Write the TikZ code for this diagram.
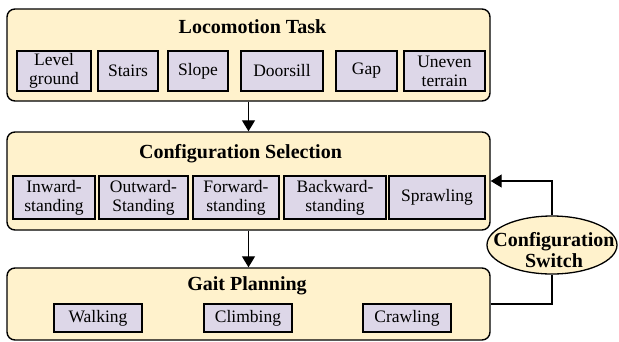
\documentclass[tikz,border=0pt]{standalone}
\usepackage{fontspec}
\setmainfont{Liberation Serif}
\usetikzlibrary{arrows.meta,shapes.geometric}
\definecolor{panelfill}{HTML}{FFF2CC}
\definecolor{itemfill}{HTML}{DDD7E8}
\tikzset{
  panel/.style={draw=black, line width=1.4pt, rounded corners=8pt, fill=panelfill,
    minimum width=483pt, inner sep=0pt},
  title/.style={font=\fontsize{20}{22}\selectfont\bfseries, inner sep=0pt, anchor=base},
  item/.style={draw=black, line width=1.3pt, fill=itemfill, inner sep=0pt,
    align=center, font=\fontsize{17.5}{19}\selectfont},
  flow/.style={draw=black, line width=1.3pt, -{Triangle[length=11pt,width=13pt]}},
  link/.style={draw=black, line width=1.3pt},
}
\begin{document}
\begin{tikzpicture}[x=1pt,y=1pt]
\useasboundingbox (0,0) rectangle (619,-341);

% three stage panels
\node[panel, minimum height=92pt] (task) at (248.5,-55) {};
\node[panel, minimum height=98pt] (sel)  at (248.5,-181) {};
\node[panel, minimum height=72pt] (gait) at (248.5,-304) {};

\node[title] (taskT) at (252.5,-33) {Locomotion Task};
\node[title] (selT)  at (240.5,-158) {Configuration Selection};
\node[title] (gaitT) at (247,-290) {Gait Planning};

% terrain items
\begin{scope}[every node/.style={item, minimum height=40pt}]
\node[minimum width=74pt] (lg)  at (54,-71)    {Level\\ground};
\node[minimum width=60pt] (st)  at (128,-71)   {Stairs};
\node[minimum width=60pt] (sl)  at (198,-71)   {Slope};
\node[minimum width=82pt] (ds)  at (282,-71)   {Doorsill};
\node[minimum width=61pt] (gp)  at (366.5,-71) {Gap};
\node[minimum width=81pt] (ut)  at (444.5,-71) {Uneven\\terrain};
\end{scope}

% configurations
\begin{scope}[every node/.style={item, minimum height=43pt}]
\node[minimum width=82pt]  (inw) at (54,-197.5)  {Inward-\\standing};
\node[minimum width=89pt]  (out) at (143.5,-197.5) {Outward-\\Standing};
\node[minimum width=86pt]  (fwd) at (236,-197.5) {Forward-\\standing};
\node[minimum width=102pt] (bwd) at (335,-197.5) {Backward-\\standing};
\node[minimum width=96pt]  (spr) at (437,-197.5) {Sprawling};
\end{scope}

% gaits
\begin{scope}[every node/.style={item, minimum height=28pt, minimum width=88pt}]
\node (walk)  at (98,-318)  {Walking};
\node (climb) at (248,-318) {Climbing};
\node (crawl) at (407,-318) {Crawling};
\end{scope}

% switch ellipse
\node[ellipse, draw=black, line width=1.3pt, fill=panelfill,
      minimum width=130pt, minimum height=58pt, inner sep=0pt] (sw) at (552,-245) {};
\node[align=center, inner sep=0pt, font=\fontsize{20}{21}\selectfont\bfseries]
      (swT) at (554,-250) {Configuration\\Switch};

% connectors
\draw[flow] (task.south) -- (sel.north);
\draw[flow] (sel.south) -- (gait.north);
\draw[flow] (sw.north) |- (sel.east);
\draw[link] (gait.east) -| (sw.south);
\end{tikzpicture}
\end{document}
